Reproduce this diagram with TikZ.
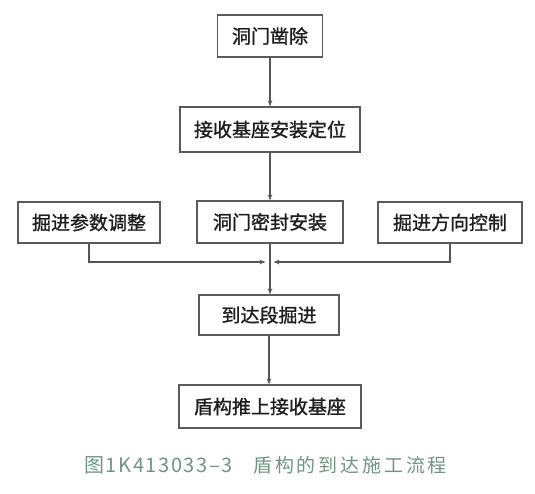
\documentclass[tikz,border=0pt]{standalone}
\usepackage{fontspec}
\newfontfamily\cjk{Noto Sans CJK SC}[BoldFont=*, BoldFeatures={FakeBold=1.2}]
\newfontfamily\capnum{Noto Sans CJK SC}[LetterSpace=8]
\newfontfamily\captext{Noto Sans CJK SC}[LetterSpace=15]
\usetikzlibrary{arrows.meta}
\definecolor{linegray}{HTML}{555555}
\definecolor{boxgray}{HTML}{5A5A5A}
\definecolor{captiongreen}{HTML}{6F9683}
\tikzset{
  stepbox/.style={draw=boxgray, line width=1.3pt, fill=white, inner sep=0pt,
    font=\cjk\fontsize{19}{19}\selectfont\bfseries, text=black!88},
  flow/.style={draw=linegray, line width=1.1pt,
    -{Stealth[length=6pt,width=4.5pt]}},
  caption/.style={text=captiongreen, inner sep=0pt}
}
\begin{document}
\begin{tikzpicture}[x=1pt,y=-1pt]
  \useasboundingbox (0,0) rectangle (535,494);

  % process boxes
  \node[stepbox, minimum width=105pt, minimum height=42pt] (b1) at (270,36) {洞门凿除};
  \node[stepbox, minimum width=180pt, minimum height=45pt] (b2) at (270,129.5) {接收基座安装定位};
  \node[stepbox, minimum width=142pt, minimum height=41pt] (b3l) at (89,222.5) {掘进参数调整};
  \node[stepbox, minimum width=146pt, minimum height=42pt] (b3m) at (270,222) {洞门密封安装};
  \node[stepbox, minimum width=144pt, minimum height=41pt] (b3r) at (450,222.5) {掘进方向控制};
  \node[stepbox, minimum width=140pt, minimum height=40pt] (b4) at (269,315) {到达段掘进};
  \node[stepbox, minimum width=182pt, minimum height=43pt] (b5) at (270,406.5) {盾构推上接收基座};

  % junction points on the collecting line
  \coordinate (jl) at (265.5,262);
  \coordinate (jr) at (273.5,262);

  % main flow
  \draw[flow] (b1.south) -- (b1.south |- b2.north);
  \draw[flow] (b2.south) -- (b2.south |- b3m.north);
  \draw[flow] (b3m.south) -- (b3m.south |- b4.north);
  \draw[flow] (b4.south) -- (b4.south |- b5.north);

  % side inputs joining the main line
  \draw[flow] (b3l.south) -- (b3l.south |- jl) -- (jl);
  \draw[flow] (b3r.south) -- (b3r.south |- jr) -- (jr);

  % caption
  \node[caption, anchor=west, font=\capnum\fontsize{20}{20}\selectfont] (cap1) at (84,465) {图1K413033–3};
  \node[caption, anchor=west, font=\captext\fontsize{19}{19}\selectfont] (cap2) at (253,465) {盾构的到达施工流程};
\end{tikzpicture}
\end{document}
